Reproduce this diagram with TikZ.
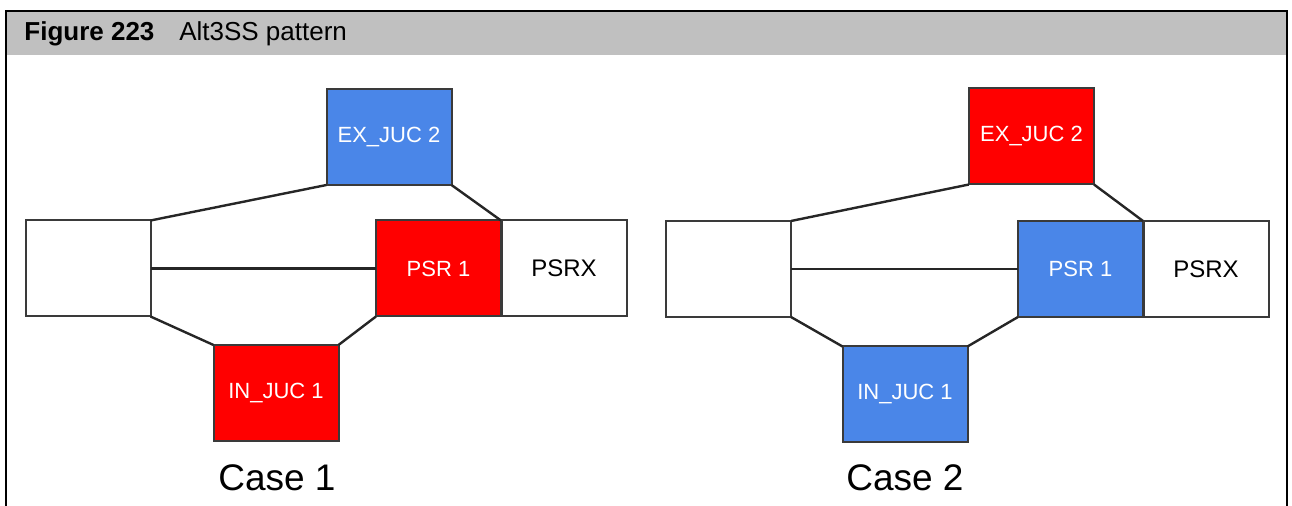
\documentclass[tikz,border=0pt]{standalone}
\usepackage{fontspec}
\setmainfont{Liberation Sans}
\usetikzlibrary{positioning}
\definecolor{jucblue}{HTML}{4A86E8}
\definecolor{jucred}{HTML}{FF0000}
\definecolor{edgegray}{HTML}{3A3A3A}
\definecolor{headgray}{HTML}{C0C0C0}
\begin{document}
\begin{tikzpicture}[x=0.5pt, y=-0.5pt,
    cell/.style={rectangle, draw=edgegray, line width=1pt, minimum width=62.5pt,
                 minimum height=48pt, inner sep=0pt, outer sep=0pt},
    redcell/.style={cell, fill=jucred, text=white, font=\fontsize{11}{13}\selectfont},
    bluecell/.style={cell, fill=jucblue, text=white, font=\fontsize{11}{13}\selectfont},
    blankcell/.style={cell, fill=white, font=\fontsize{12}{14}\selectfont},
    link/.style={draw=black!85, line width=1.2pt},
    caselbl/.style={font=\fontsize{18.5}{22}\selectfont, inner sep=0pt}
]
    \useasboundingbox (0,0) rectangle (1292,506);

    % frame and caption bar
    \fill[headgray] (6,11) rectangle (1287,55);
    \draw[line width=1pt] (6,506) -- (6,11) -- (1287,11) -- (1287,506);
    \node[anchor=base west, inner sep=0pt, font=\fontsize{13}{15}\selectfont\bfseries] (fignum) at (24,41) {Figure 223};
    \node[base right=12pt of fignum, inner sep=0pt, font=\fontsize{13}{15}\selectfont] (figtitle) {Alt3SS pattern};

    % case 1
    \node[blankcell] (left1)  at (88,268.5)  {};
    \node[redcell]   (psr1)   at (438.5,268.5) {PSR 1};
    \node[blankcell] (psrx1)  at (564,268.5) {PSRX};
    \node[bluecell]  (ex1)    at (389,137)   {EX\_JUC 2};
    \node[redcell]   (in1)    at (276,393)   {IN\_JUC 1};

    \draw[link] (left1.north east) -- (ex1.south west);
    \draw[link] (ex1.south east)   -- (psr1.north east);
    \draw[link] (left1.east)       -- (psr1.west);
    \draw[link] (left1.south east) -- (in1.north west);
    \draw[link] (in1.north east)   -- (psr1.south west);

    \node[caselbl] (case1) at (277,478) {Case 1};

    % case 2
    \node[blankcell] (left2)  at (728.5,269) {};
    \node[bluecell]  (psr2)   at (1080.5,269) {PSR 1};
    \node[blankcell] (psrx2)  at (1206,269)  {PSRX};
    \node[redcell]   (ex2)    at (1031.5,136.5) {EX\_JUC 2};
    \node[bluecell]  (in2)    at (905,394.5) {IN\_JUC 1};

    \draw[link] (left2.north east) -- (ex2.south west);
    \draw[link] (ex2.south east)   -- (psr2.north east);
    \draw[link] (left2.east)       -- (psr2.west);
    \draw[link] (left2.south east) -- (in2.north west);
    \draw[link] (in2.north east)   -- (psr2.south west);

    \node[caselbl] (case2) at (905,478) {Case 2};
\end{tikzpicture}
\end{document}
